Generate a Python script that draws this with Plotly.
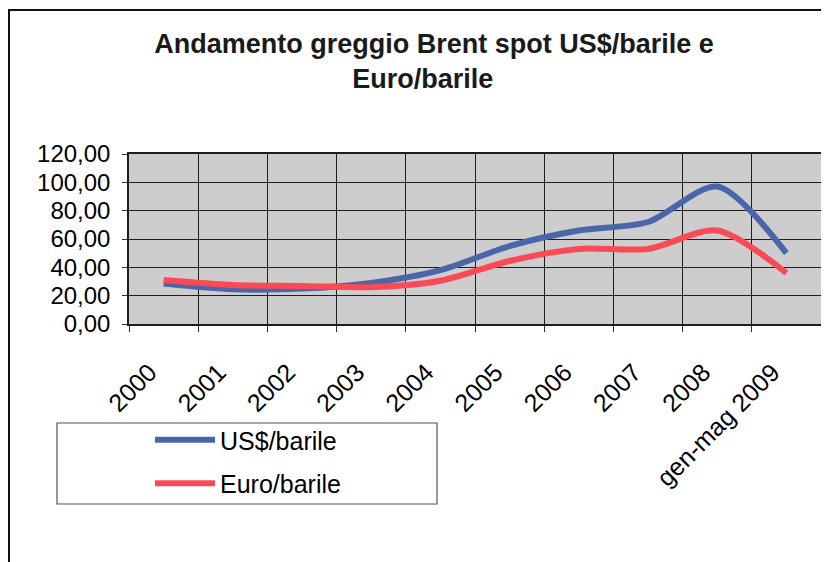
import plotly.graph_objects as go

categories = ["2000", "2001", "2002", "2003", "2004", "2005", "2006", "2007", "2008", "gen-mag 2009"]
usd_barile = [28.5, 24.5, 25.0, 29.0, 38.0, 55.0, 66.0, 72.0, 97.0, 50.0]
euro_barile = [31.0, 27.5, 26.8, 26.0, 30.5, 44.5, 53.0, 53.0, 66.0, 36.0]
y_ticks = [0, 20, 40, 60, 80, 100, 120]

OFF = 8  # page body margin
W, H = 829 - OFF, 562 - OFF
L, R, T, B = 129 - OFF, 8, 154 - OFF, 238
pw, ph = W - L - R, H - T - B

def px_x(p):
    return (p - OFF - L) / pw

def px_y(p):
    return (H - B - (p - OFF)) / ph

FONT = "Liberation Sans, Arial, sans-serif"

fig = go.Figure()
fig.add_trace(go.Scatter(
    x=categories, y=usd_barile, name="US$/barile", mode="lines",
    line=dict(color="#4a65a8", width=6, shape="spline", smoothing=0.8),
    legendgroup="a",
))
fig.add_trace(go.Scatter(
    x=categories, y=euro_barile, name="Euro/barile", mode="lines",
    line=dict(color="#fb4a55", width=6, shape="spline", smoothing=0.8),
    legendgroup="b",
))

fig.update_layout(
    width=W, height=H,
    margin=dict(l=L, r=R, t=T, b=B, autoexpand=False),
    paper_bgcolor="white",
    plot_bgcolor="#cdcdcd",
    separators=",.",
    font=dict(family=FONT, color="black", size=22),
    title=dict(
        text="<b>Andamento greggio Brent spot US$/barile e<br>Euro/barile&nbsp;&nbsp;&nbsp;</b>",
        x=(434 - OFF) / W, xref="container", xanchor="center",
        y=1 - (53 - OFF) / H, yref="container", yanchor="top",
        font=dict(family=FONT, size=27, color="#1a1a1a"),
    ),
    xaxis=dict(
        type="category", tickson="boundaries",
        showgrid=True, gridcolor="#1e1e1e", gridwidth=1,
        ticks="outside", ticklen=6, tickcolor="#333",
        tickangle=-45, tickfont=dict(size=25),
        ticklabelstandoff=22, ticklabelshift=-14,
        showline=True, linecolor="#1e1e1e", linewidth=1.5, mirror=True,
        range=[-0.5, len(categories) - 0.5],
    ),
    yaxis=dict(
        range=[0, 120], tickvals=y_ticks, tickformat=".2f",
        showgrid=True, gridcolor="#1e1e1e", gridwidth=1,
        ticks="outside", ticklen=5, tickcolor="#333",
        tickfont=dict(size=24), ticklabelstandoff=7,
        showline=True, linecolor="#1e1e1e", linewidth=1.5, mirror=True,
        zeroline=False,
    ),
    showlegend=True,
    legend=dict(
        x=px_x(150), y=px_y(417), xanchor="left", yanchor="top",
        xref="paper", yref="paper",
        bgcolor="rgba(0,0,0,0)", borderwidth=0,
        font=dict(size=25), tracegroupgap=8,
        itemwidth=60,
    ),
    shapes=[
        dict(type="rect", xref="paper", yref="paper",
             x0=px_x(57), x1=px_x(437), y0=px_y(504), y1=px_y(423),
             line=dict(color="#555", width=1.2), fillcolor="rgba(0,0,0,0)", layer="below"),
        dict(type="rect", xref="paper", yref="paper",
             x0=px_x(9), x1=px_x(845), y0=px_y(590), y1=px_y(10),
             line=dict(color="#111", width=2), fillcolor="rgba(0,0,0,0)"),
    ],
)

fig.write_html("out.html")
